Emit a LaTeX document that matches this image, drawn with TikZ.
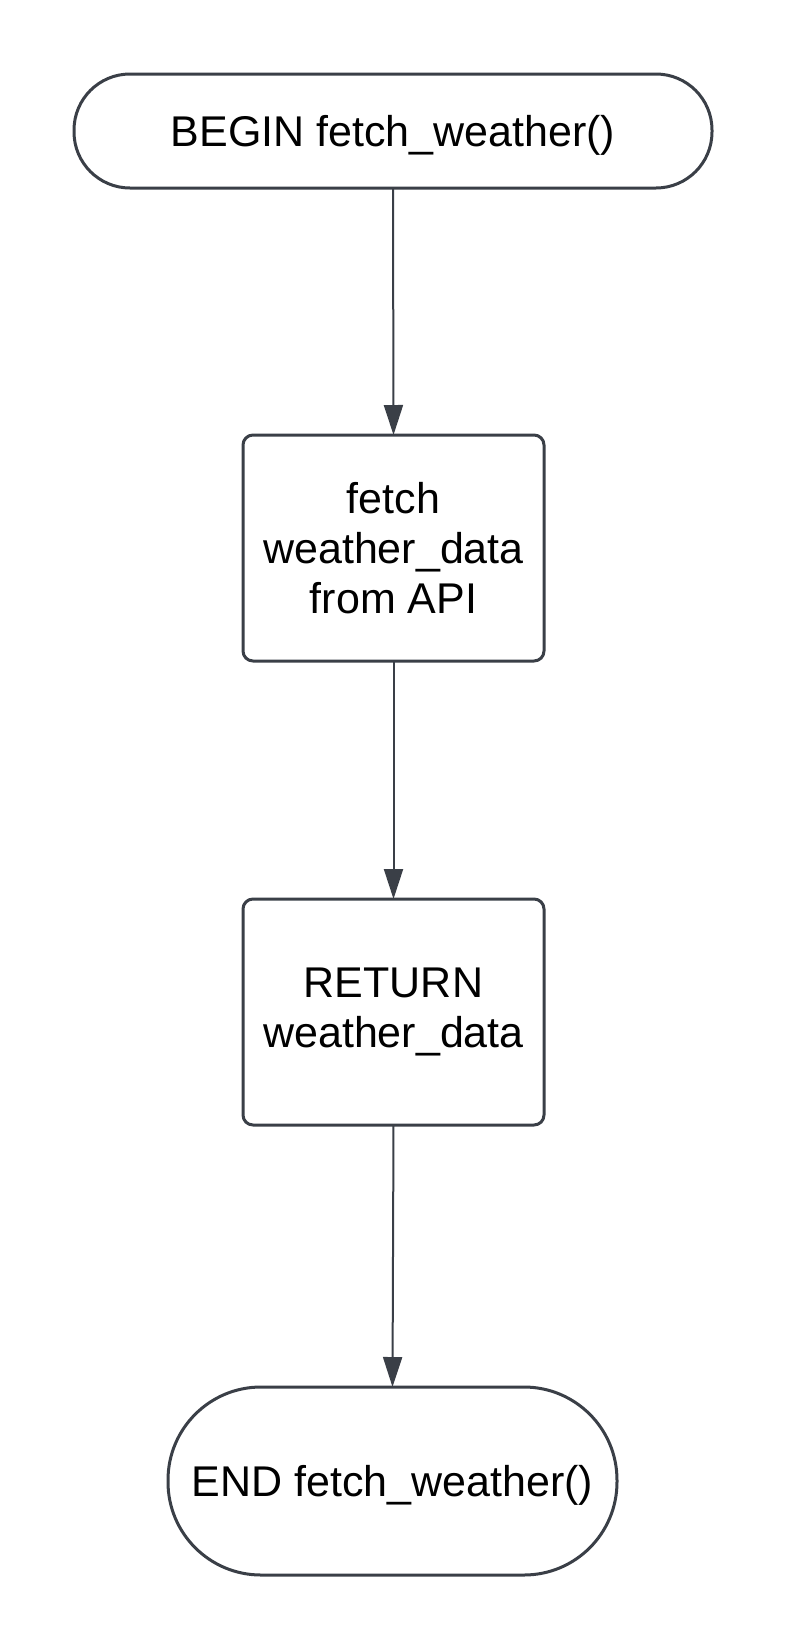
\documentclass[tikz,border=0pt]{standalone}
\usepackage{fontspec}
\setmainfont{Liberation Sans}
\usetikzlibrary{arrows.meta}
\definecolor{edge}{HTML}{3A3F47}
\tikzset{
  x=1pt, y=-1pt,
  base/.style={draw=edge, line width=3pt, fill=white, inner sep=0pt, outer sep=0pt,
    align=center, font=\fontsize{43}{50}\selectfont, text=black},
  term/.style={base, rounded corners=#1, text depth=0pt},
  procbox/.style={base, rounded corners=10pt, minimum width=301pt, minimum height=226pt},
  flow/.style={draw=edge, line width=2pt, -{Triangle[length=30pt, width=19pt]}}
}
\begin{document}
\begin{tikzpicture}
\useasboundingbox (0,0) rectangle (788,1650);
\node[term=56pt, minimum width=638pt, minimum height=114pt] (begin) at (393,131) {BEGIN fetch\_weather()};
\node[procbox] (fetch) at (393.5,548) {fetch\\weather\_data\\from API};
\node[procbox] (ret) at (393.5,1012) {RETURN\\weather\_data};
\node[term=93pt, minimum width=449pt, minimum height=188pt] (end) at (392.5,1481) {END fetch\_weather()};
\draw[flow] (begin.south) -- (fetch.north);
\draw[flow] (fetch.south) -- (ret.north);
\draw[flow] (ret.south) -- (end.north);
\end{tikzpicture}
\end{document}
